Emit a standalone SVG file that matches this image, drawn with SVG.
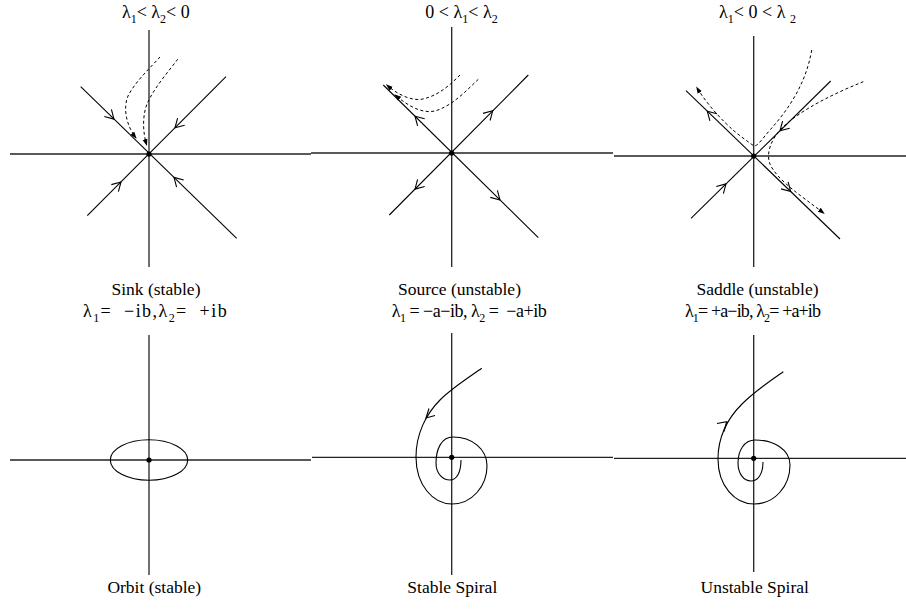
<svg xmlns="http://www.w3.org/2000/svg" width="906" height="609" viewBox="0 0 906 609">
<style>
text{font-family:"Liberation Serif","Times New Roman",serif;font-size:17.5px;fill:#000}
.f{font-size:18px}
.sub{font-size:12px}
.ax{stroke:#222;stroke-width:1.3;fill:none}
.ln{stroke:#000;stroke-width:1.1;fill:none}
.ch{stroke:#000;stroke-width:1.1;fill:none;stroke-linejoin:miter}
.dsh{stroke:#000;stroke-width:1;fill:none;stroke-dasharray:3 2.5;marker-end:url(#ah)}
.dot{fill:#000}
</style>
<defs>
<marker id="ah" markerWidth="7" markerHeight="6" refX="6" refY="3" orient="auto" markerUnits="userSpaceOnUse">
<path d="M0,0.5 L7,3 L0,5.5 z" fill="#000" stroke="none"/>
</marker>
</defs>
<rect width="906" height="609" fill="#fff"/>

<g id="sink">
<text class="f" x="155.8" y="18" text-anchor="middle">λ<tspan class="sub" dy="5">1</tspan><tspan dy="-5">&lt; λ</tspan><tspan class="sub" dy="5">2</tspan><tspan dy="-5">&lt; 0</tspan></text>
<line class="ax" x1="10" y1="154" x2="311" y2="154"/>
<line class="ax" x1="149" y1="30" x2="149" y2="267"/>
<line class="ln" x1="80.7" y1="86.7" x2="236.7" y2="238.3"/>
<line class="ln" x1="226" y1="76.7" x2="87.3" y2="215.7"/>
<path class="ch" d="M104.3,116.5 L114,119.1 L111.4,109.4"/>
<path class="ch" d="M177.6,118.1 L175,127.8 L184.7,125.2"/>
<path class="ch" d="M118.4,191.7 L121,182 L111.3,184.6"/>
<path class="ch" d="M183.7,180 L174,177.4 L176.6,187.1"/>
<path class="dsh" d="M160,57 C150,68 135,82 128,96 C123,108 126,125 136,138"/>
<path class="dsh" d="M177.7,59.3 C168,72 154,88 147,104 C142,117 143,133 146.7,145"/>
<circle class="dot" cx="149" cy="154" r="2.6"/>
<text x="156" y="295" text-anchor="middle">Sink (stable)</text>
</g>

<g id="source">
<text class="f" x="461.5" y="18" text-anchor="middle">0 &lt; λ<tspan class="sub" dy="5">1</tspan><tspan dy="-5">&lt; λ</tspan><tspan class="sub" dy="5">2</tspan></text>
<line class="ax" x1="311" y1="153" x2="613" y2="153"/>
<line class="ax" x1="451.7" y1="27" x2="451.7" y2="267"/>
<line class="ln" x1="383.3" y1="85" x2="538.3" y2="237.7"/>
<line class="ln" x1="528.3" y1="75" x2="389.3" y2="215"/>
<path class="ch" d="M424.7,118.8 L415,116.2 L417.6,125.9"/>
<path class="ch" d="M490.1,120.5 L492.7,110.8 L483,113.4"/>
<path class="ch" d="M417.6,179.4 L415,189.1 L424.7,186.5"/>
<path class="ch" d="M490.3,197.4 L500,200 L497.4,190.3"/>
<path class="dsh" d="M460,75 C450,85 437,97 420,99.5 C408,100 396,93 386.7,85"/>
<path class="dsh" d="M478.3,79.3 C466,91 452,106 435,111 C420,114 406,104 395,95"/>
<circle class="dot" cx="451.7" cy="153" r="2.6"/>
<text x="459.5" y="295" text-anchor="middle">Source (unstable)</text>
</g>

<g id="saddle">
<text class="f" x="757.5" y="18" text-anchor="middle">λ<tspan class="sub" dy="5">1</tspan><tspan dy="-5">&lt; 0 &lt; λ </tspan><tspan class="sub" dy="5">2</tspan></text>
<line class="ax" x1="614" y1="156" x2="906" y2="156"/>
<line class="ax" x1="753.7" y1="36" x2="753.7" y2="267"/>
<line class="ln" x1="686" y1="90.7" x2="840" y2="239"/>
<line class="ln" x1="830.7" y1="81" x2="691" y2="218.3"/>
<path class="ch" d="M717,113.8 L707.3,111.2 L709.9,120.9"/>
<path class="ch" d="M782.6,121.1 L780,130.8 L789.7,128.2"/>
<path class="ch" d="M723.4,193.6 L726,183.9 L716.3,186.5"/>
<path class="ch" d="M781,188.9 L790.7,191.5 L788.1,181.8"/>
<path class="dsh" d="M811.7,50 C806,84 788,110 770,130 C762,139 758,146 754,146 C747,141 740,136 733,130 C724,122 708,106 696.7,87.3"/>
<path class="dsh" d="M863.3,81.7 C835,93 800,110 782,128 C770,140 766,155 770,164 C777,180 800,195 824,213.3"/>
<circle class="dot" cx="753.7" cy="156" r="2.6"/>
<text x="757.5" y="295" text-anchor="middle">Saddle (unstable)</text>
</g>

<g id="orbit">
<text class="f" x="154.8" y="317" text-anchor="middle" textLength="143.7" xml:space="preserve">λ<tspan class="sub" dy="5">1</tspan><tspan dy="-5">=  −ib,λ</tspan><tspan class="sub" dy="5">2</tspan><tspan dy="-5">=  +ib</tspan></text>
<line class="ax" x1="10" y1="460" x2="311" y2="460"/>
<line class="ax" x1="149" y1="335" x2="149" y2="575"/>
<ellipse class="ln" cx="149" cy="460" rx="38.7" ry="20.3"/>
<circle class="dot" cx="149" cy="460" r="2.6"/>
<text x="154.3" y="593" text-anchor="middle">Orbit (stable)</text>
</g>

<g id="stable-spiral">
<text class="f" x="469.2" y="317" text-anchor="middle" textLength="155" xml:space="preserve">λ<tspan class="sub" dy="5">1</tspan><tspan dy="-5"> = −a−ib, λ</tspan><tspan class="sub" dy="5">2</tspan><tspan dy="-5"> =  −a+ib</tspan></text>
<line class="ax" x1="312" y1="457.3" x2="613" y2="457.3"/>
<line class="ax" x1="451.7" y1="333" x2="451.7" y2="575"/>
<path class="ln" d="M481.7,368.3 C468,378 452,388 440,400 C426,414 416,434 416,457 C416,485 433,504 452,504 C472,504 487,486 487,466 C487,449 472,437 453,437 C441,437 436,450 436,463 C436,474 443,480 450,480 C457,480 461,472 461,460"/>
<path class="ch" d="M435,415.5 L426,418 L429,408.5"/>
<circle class="dot" cx="451.7" cy="457.3" r="2.6"/>
<text x="452.3" y="593" text-anchor="middle">Stable Spiral</text>
</g>

<g id="unstable-spiral">
<text class="f" x="753" y="317" text-anchor="middle" textLength="136" xml:space="preserve">λ<tspan class="sub" dy="5">1</tspan><tspan dy="-5">= +a−ib, λ</tspan><tspan class="sub" dy="5">2</tspan><tspan dy="-5">= +a+ib</tspan></text>
<line class="ax" x1="614" y1="458.3" x2="906" y2="458.3"/>
<line class="ax" x1="753.7" y1="335" x2="753.7" y2="572"/>
<path class="ln" d="M783.3,371.7 C770,381 755,391 742,404 C728,418 718,436 718,459 C718,486 735,504 754,504 C774,504 790,487 790,465 C790,449 773,440 755,440 C744,440 738,451 738,463 C738,474 744,481 751,481 C758,481 763,474 763,462"/>
<path class="ch" d="M717,423.5 L726.7,421.7 L724,431.5"/>
<circle class="dot" cx="753.7" cy="458.3" r="2.6"/>
<text x="754.7" y="593" text-anchor="middle">Unstable Spiral</text>
</g>
</svg>
